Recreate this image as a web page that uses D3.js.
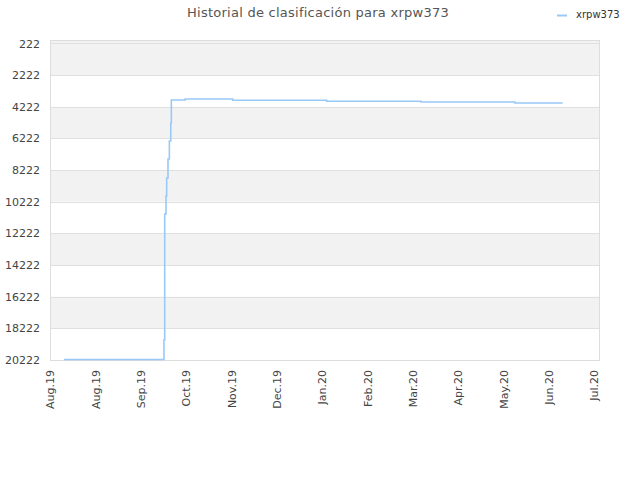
<!DOCTYPE html>
<html>
<head>
<meta charset="utf-8">
<script src="https://cdn.jsdelivr.net/npm/d3@7"></script>
<style>
  body { margin: 0; background: #fff; }
  text { font-family: "DejaVu Sans", sans-serif; }
</style>
</head>
<body>
<svg id="canvas" width="640" height="480"></svg>
<script>
let title = 'Historial de clasificación para xrpw373'
let seriesName = 'xrpw373'

// fechas y posiciones
let dates = ['2019-08-10T06:00', '2019-10-15T10:00', '2019-10-15T22:00', '2019-10-16T19:00',
    '2019-10-17T05:00', '2019-10-18T02:00', '2019-10-19T00:00', '2019-10-19T22:00',
    '2019-10-20T07:00', '2019-10-29T12:00', '2019-11-29T22:00', '2020-01-31T02:00',
    '2020-04-02T12:00', '2020-06-03T17:00', '2020-07-05T07:00']
let ranks = [20190, 18958, 10996, 9858, 8721, 7520, 6383, 5246, 3793, 3729, 3811, 3874, 3919, 3982, 3982]

let yTicks = [222, 2222, 4222, 6222, 8222, 10222, 12222, 14222, 16222, 18222, 20222]
let xTickDates = ['2019-08-01', '2019-08-31', '2019-09-30', '2019-10-30', '2019-11-29', '2019-12-29',
    '2020-01-28', '2020-02-27', '2020-03-28', '2020-04-27', '2020-05-27', '2020-06-26', '2020-07-26']
let xTickLabels = ['Aug.19', 'Aug.19', 'Sep.19', 'Oct.19', 'Nov.19', 'Dec.19',
    'Jan.20', 'Feb.20', 'Mar.20', 'Apr.20', 'May.20', 'Jun.20', 'Jul.20']

let parse = d3.timeParse('%Y-%m-%dT%H:%M')
let parseDay = d3.timeParse('%Y-%m-%d')

let data = dates.map((d, i) => ({ date: parse(d), rank: ranks[i] }))
let tickDates = xTickDates.map(parseDay)

let canvas = d3.select('#canvas')
let plotLeft = 50, plotRight = 600, plotTop = 40, plotBottom = 360

let xScale = d3.scaleTime()
    .domain([parseDay('2019-08-01'), parseDay('2020-07-30')])
    .range([plotLeft, plotRight])

let yScale = d3.scaleLinear()
    .domain([1, 20222])
    .range([plotTop, plotBottom])

// bandas alternas
let bandEdges = [1].concat(yTicks.slice(1))
for (let i = 0; i < bandEdges.length - 1; i++) {
    canvas.append('rect')
        .attr('x', plotLeft)
        .attr('y', yScale(bandEdges[i]))
        .attr('width', plotRight - plotLeft)
        .attr('height', yScale(bandEdges[i + 1]) - yScale(bandEdges[i]))
        .attr('fill', (i % 2 == 0) ? '#f2f2f2' : '#ffffff')
}

// lineas de rejilla
canvas.selectAll('line.grid')
    .data(yTicks)
    .enter()
    .append('line')
    .attr('class', 'grid')
    .attr('x1', plotLeft)
    .attr('x2', plotRight)
    .attr('y1', (d) => Math.round(yScale(d)) + 0.5)
    .attr('y2', (d) => Math.round(yScale(d)) + 0.5)
    .attr('stroke', '#e0e0e0')
    .attr('stroke-width', 1)

canvas.append('rect')
    .attr('x', plotLeft + 0.5)
    .attr('y', plotTop + 0.5)
    .attr('width', plotRight - plotLeft - 1)
    .attr('height', plotBottom - plotTop)
    .attr('fill', 'none')
    .attr('stroke', '#dddddd')

// eje y
let yAxis = d3.axisLeft(yScale)
    .tickValues(yTicks)
    .tickSize(0)
    .tickPadding(10)
    .tickFormat((d) => d)
let yg = canvas.append('g')
    .attr('transform', 'translate(' + plotLeft + ',0)')
    .call(yAxis)
yg.select('.domain').remove()
yg.selectAll('text')
    .attr('fill', '#444')
    .style('font-size', '11px')

// eje x
let xAxis = d3.axisBottom(xScale)
    .tickValues(tickDates)
    .tickSize(0)
    .tickFormat((d, i) => xTickLabels[i])
let xg = canvas.append('g')
    .attr('transform', 'translate(0,' + plotBottom + ')')
    .call(xAxis)
xg.select('.domain').remove()
xg.selectAll('text')
    .attr('fill', '#444')
    .style('font-size', '11px')
    .attr('text-anchor', 'end')
    .attr('transform', 'rotate(-90)')
    .attr('x', -10)
    .attr('y', 0)
    .attr('dy', '0.35em')

// linea de la serie
let line = d3.line()
    .x((d) => xScale(d.date))
    .y((d) => yScale(d.rank))
    .curve(d3.curveStepAfter)

canvas.append('path')
    .datum(data)
    .attr('d', line)
    .attr('fill', 'none')
    .attr('stroke', '#99c9f7')
    .attr('stroke-width', 1.6)

// titulo
canvas.append('text')
    .attr('x', 318)
    .attr('y', 17)
    .attr('text-anchor', 'middle')
    .attr('fill', '#555')
    .style('font-size', '13px')
    .style('letter-spacing', '0.25px')
    .text(title)

// leyenda
canvas.append('line')
    .attr('x1', 557)
    .attr('x2', 567)
    .attr('y1', 15.5)
    .attr('y2', 15.5)
    .attr('stroke', '#99c9f7')
    .attr('stroke-width', 2)
canvas.append('text')
    .attr('x', 576)
    .attr('y', 18)
    .attr('fill', '#333')
    .style('font-size', '10px')
    .text(seriesName)
</script>
</body>
</html>
